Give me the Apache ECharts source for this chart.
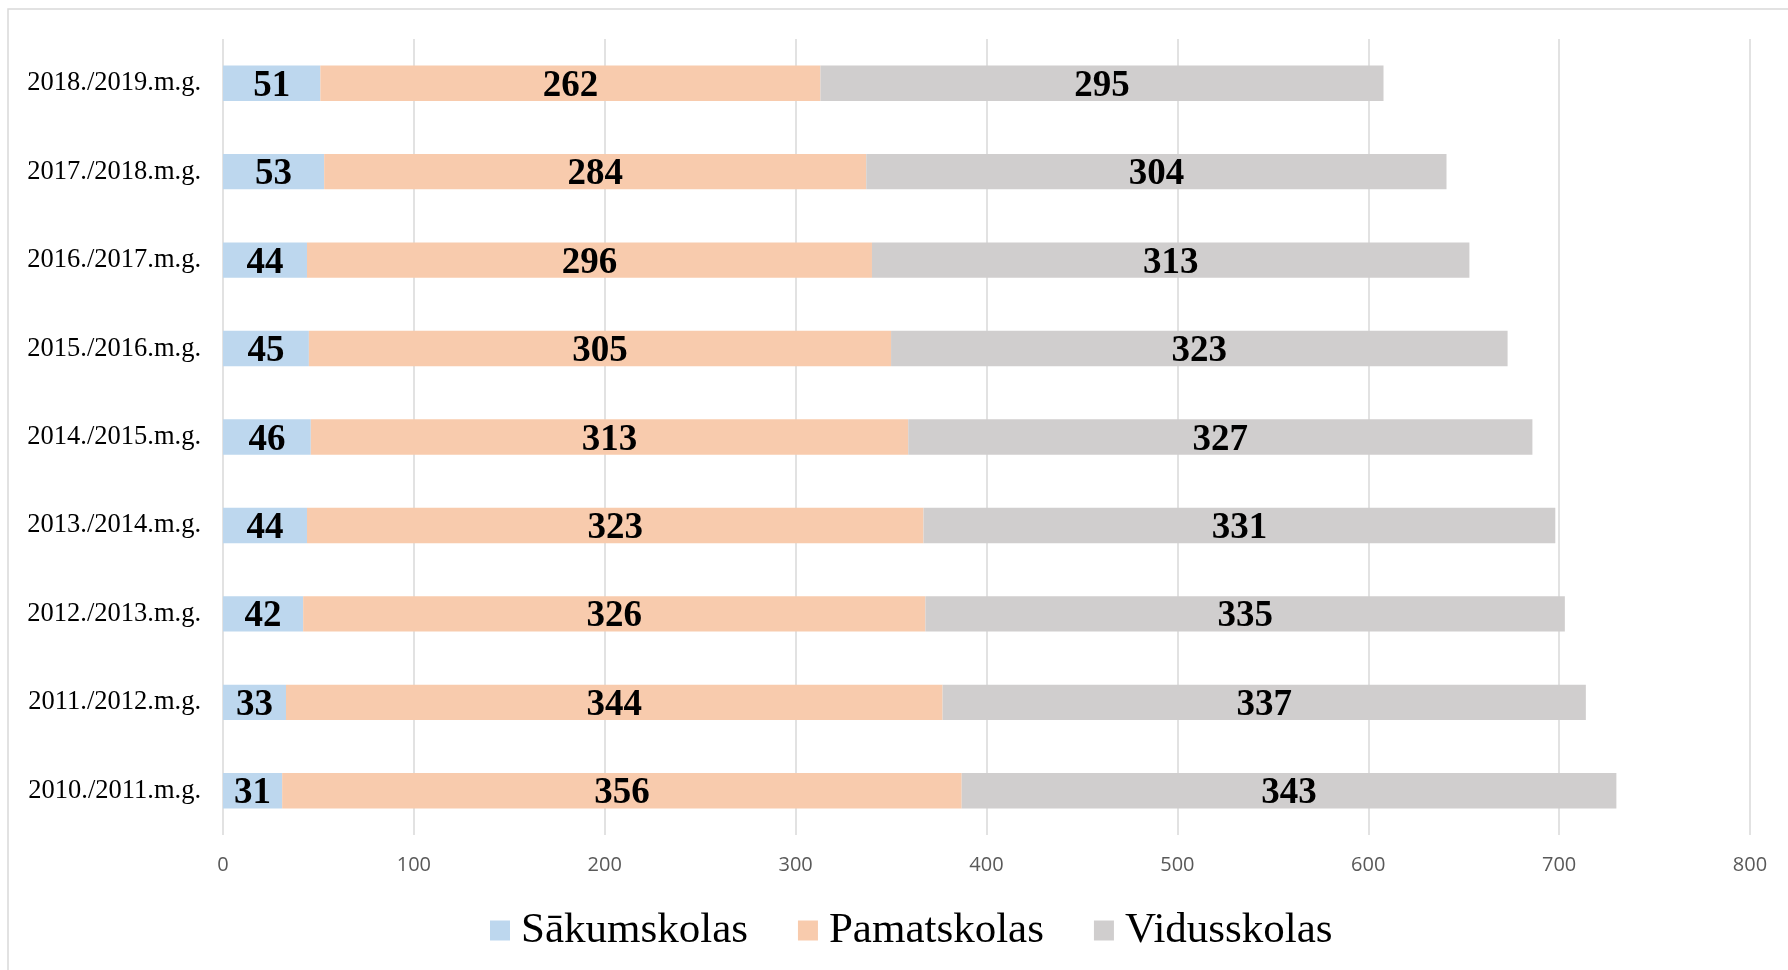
<!DOCTYPE html>
<html>
<head>
<meta charset="utf-8">
<script src="https://cdn.jsdelivr.net/npm/echarts@6/dist/echarts.min.js"></script>
<style>
html,body{margin:0;padding:0;background:#fff;}
#chart{width:1788px;height:970px;}
</style>
</head>
<body>
<div id="chart"></div>
<script>
const categories = ["2010./2011.m.g.","2011./2012.m.g.","2012./2013.m.g.","2013./2014.m.g.","2014./2015.m.g.","2015./2016.m.g.","2016./2017.m.g.","2017./2018.m.g.","2018./2019.m.g."];
const sakumskolas = [31,33,42,44,46,45,44,53,51];
const pamatskolas = [356,344,326,323,313,305,296,284,262];
const vidusskolas = [343,337,335,331,327,323,313,304,295];
const seriesNames = ["Sākumskolas","Pamatskolas","Vidusskolas"];
const colors = ["#BDD7EE","#F8CBAD","#D0CECE"];

const chart = echarts.init(document.getElementById('chart'));
const labelStyle = {show:true, position:'inside', offset:[0,3], color:'#000', fontFamily:'Liberation Serif', fontWeight:'bold', fontSize:37};
const mk = (name, data, color) => ({
  name, type:'bar', stack:'total', data, barWidth:'40%',
  itemStyle:{color}, label:labelStyle, silent:true
});
chart.setOption({
  animation:false,
  graphic:[{type:'rect', shape:{x:8,y:9,width:1800,height:1000}, style:{fill:'none', stroke:'#D9D9D9', lineWidth:1.5}, z:-1}],
  grid:{left:223, right:38, top:39, bottom:135, containLabel:false},
  xAxis:{type:'value', min:0, max:800, interval:100,
    axisLine:{show:false}, axisTick:{show:false},
    splitLine:{lineStyle:{color:'#D9D9D9', width:1.5}},
    axisLabel:{color:'#595959', fontFamily:'Open Sans', fontSize:20, margin:20}},
  yAxis:{type:'category', data:categories,
    axisLine:{show:false}, axisTick:{show:false},
    axisLabel:{color:'#000', fontFamily:'Liberation Serif', fontSize:26.5, margin:22, padding:[5,0,0,0]}},
  legend:{data:seriesNames, left:485, top:904, itemWidth:20, itemHeight:20, itemGap:50, icon:'rect',
    textStyle:{color:'#000', fontFamily:'Liberation Serif', fontSize:43, padding:[0,0,0,6]}},
  series:[mk(seriesNames[0], sakumskolas, colors[0]), mk(seriesNames[1], pamatskolas, colors[1]), mk(seriesNames[2], vidusskolas, colors[2])]
});
</script>
</body>
</html>
